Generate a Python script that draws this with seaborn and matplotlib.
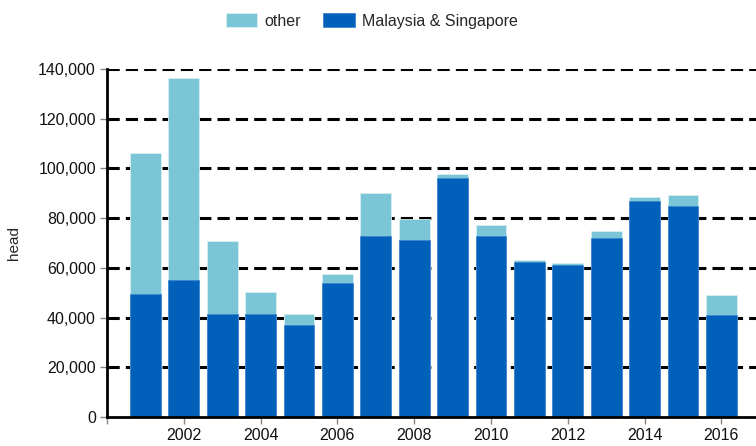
import numpy as np
import pandas as pd
import matplotlib
matplotlib.use("Agg")
import matplotlib.pyplot as plt
from matplotlib.ticker import FuncFormatter
import seaborn as sns

# datos
anios = [2001, 2002, 2003, 2004, 2005, 2006, 2007, 2008,
         2009, 2010, 2011, 2012, 2013, 2014, 2015, 2016]
malasia_singapur = [49600, 55200, 41500, 41500, 37200, 54000, 72700, 71100,
                    96200, 73000, 62200, 61000, 72200, 86800, 84900, 41000]
otros = [56500, 81100, 29400, 8900, 4300, 3500, 17300, 8500,
         1500, 4300, 1000, 1000, 2800, 1600, 4300, 8000]

COLOR_OSCURO = "#0060BA"
COLOR_CLARO = "#7BC6D6"
TAM = 11.5

df = pd.DataFrame({"anio": anios, "ms": malasia_singapur, "otros": otros})
df["total"] = df["ms"] + df["otros"]

sns.set_style("white")
plt.rcParams["font.family"] = ["Liberation Sans", "DejaVu Sans"]

fig = plt.figure(figsize=(7.56, 4.46), dpi=100)
ancho_ax = 17 * 38.4
ax = fig.add_axes([107 / 756, 1 - 417 / 446, ancho_ax / 756, 348 / 446])

# barras apiladas: total detras, Malasia & Singapur delante
sns.barplot(data=df, x="anio", y="total", native_scale=True, width=0.8,
            color=COLOR_CLARO, saturation=1, edgecolor="#d8eef3", linewidth=0.6,
            label="other", ax=ax, zorder=3)
sns.barplot(data=df, x="anio", y="ms", native_scale=True, width=0.8,
            color=COLOR_OSCURO, saturation=1, edgecolor="#3f86cc", linewidth=0.6,
            label="Malaysia & Singapore", ax=ax, zorder=3)

ax.set_xlim(2000, 2017)
ax.set_ylim(0, 140000)
ax.set_yticks(np.arange(0, 140001, 20000))
ax.yaxis.set_major_formatter(FuncFormatter(lambda v, p: f"{int(v):,}"))
ax.set_xticks(np.arange(2000, 2017, 2))
ax.set_xticklabels([""] + [str(a) for a in range(2002, 2017, 2)])

for y in range(20000, 140001, 20000):
    ax.axhline(y, color="black", linestyle=(0, (4, 2)), linewidth=2.2, zorder=2)

for lado in ["top", "right"]:
    ax.spines[lado].set_visible(False)
for lado in ["left", "bottom"]:
    ax.spines[lado].set_color("black")
    ax.spines[lado].set_linewidth(2)
    ax.spines[lado].set_zorder(5)

ax.tick_params(axis="both", which="major", length=5, width=1, color="#888888",
               labelsize=TAM, labelcolor="#111111", pad=3, left=True, bottom=True)
ax.set_xlabel("")
ax.set_ylabel("head", fontsize=11)
ax.yaxis.set_label_coords((21 - 107) / ancho_ax, 0.5)

leg = ax.get_legend()
if leg is not None:
    leg.remove()
h, l = ax.get_legend_handles_labels()
fig.legend(h, l, loc="center", bbox_to_anchor=(372 / 756, 1 - 21 / 446),
           ncol=2, frameon=False, fontsize=TAM, handlelength=1.95,
           handleheight=0.95, columnspacing=1.4, handletextpad=0.45)

plt.savefig("out.png", dpi=100)
plt.close()
